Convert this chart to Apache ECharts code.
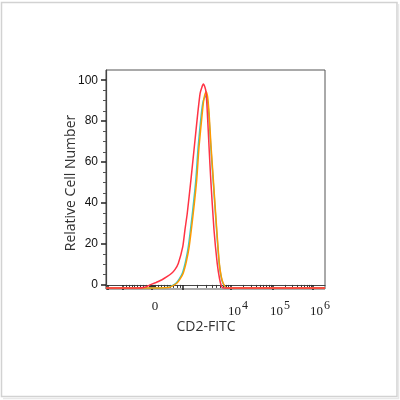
<!DOCTYPE html>
<html>
<head>
<meta charset="utf-8">
<style>html,body{margin:0;padding:0;background:#fff}#main{width:400px;height:400px}</style>
<script src="https://cdn.jsdelivr.net/npm/echarts@6/dist/echarts.min.js"></script>
</head>
<body>
<div id="main"></div>
<script>
// 显示通道 0–1024（双指数刻度）
const chMax = 1024;
// 主刻度位置：-10^4, -10^3, 0, 10^3, 10^4, 10^5, 10^6
const decadePos = [9, 80, 215, 360, 584, 781, 968];
// 刻度标签
const labelNames = ['0', '10^4', '10^5', '10^6'];
const labelPos = [215, 584, 781, 968];
// y 轴刻度
const yMajor = [0, 20, 40, 60, 80, 100];
const yMinor = [5, 10, 15, 25, 30, 35, 45, 50, 55, 65, 70, 75, 85, 90, 95];

// 曲线数据：通道 / 相对细胞数
const redX = [0, 145, 182, 206, 234, 260, 285, 307, 323, 338, 359, 369, 380, 397, 413, 429, 440, 448, 455, 463, 468, 474, 482, 490, 505, 520, 531, 541, 552, 1024];
const redY = [-1.5, -1.5, -1.1, 0, 1.2, 2.4, 4, 5.7, 7.6, 10.5, 18.7, 26.8, 35, 51.2, 67.5, 83.8, 93.6, 96.5, 98.1, 96.5, 94, 83.8, 67, 51.2, 26.8, 10.5, 3, -0.9, -1.5, -1.5];
const cyanX = [0, 248, 287, 305, 327, 342, 357, 372, 385, 404, 420, 431, 446, 455, 466, 474, 481, 490, 501, 517, 529, 538, 547, 563, 1024];
const cyanY = [-1.5, -1.5, -1.3, -0.6, 0.8, 2.8, 5.7, 11.5, 18.7, 35, 51.2, 67.5, 83.8, 90, 92.3, 90.5, 83, 67.5, 51, 26.8, 10.5, 4, 0.8, -1.5, -1.5];
const orangeX = [0, 252, 291, 309, 331, 346, 361, 376, 389, 408, 424, 435, 450, 458, 468, 475, 482, 491, 502, 518, 530, 539, 548, 564, 1024];
const orangeY = [-1.5, -1.5, -1.3, -0.6, 0.8, 2.8, 5.7, 11.5, 18.7, 35, 51.2, 67.5, 83.8, 91, 94.4, 92, 83.8, 68, 51.2, 26.8, 10.5, 4, 0.8, -1.5, -1.5];

// 次刻度：0 附近线性，10^3 以上对数
const minorPos = [];
for (let k = 1; k < 10; k++) {
  minorPos.push(decadePos[1] + (decadePos[2] - decadePos[1]) * k / 10);
  minorPos.push(decadePos[2] + (decadePos[3] - decadePos[2]) * k / 10);
}
for (let d = 3; d < 6; d++) {
  for (let k = 2; k < 10; k++) {
    minorPos.push(decadePos[d] + (decadePos[d + 1] - decadePos[d]) * Math.log10(k));
  }
}
[-9, -6, -3, 3, 6, 9].forEach(o => minorPos.push(decadePos[2] + o));

const pairs = (xs, ys) => xs.map((x, i) => [x, ys[i]]);

var myChart = echarts.init(document.getElementById('main'));
let o = {
  backgroundColor: '#fff',
  animation: false,
  grid: { left: 106, top: 70, right: 75, bottom: 111, show: true, borderColor: '#555', borderWidth: 1 },
  xAxis: [{
    type: 'value', min: 0, max: chMax, position: 'bottom',
    axisLine: { lineStyle: { color: '#444', width: 1.2 } },
    axisTick: { customValues: decadePos, length: 5, lineStyle: { color: '#222', width: 1.5 } },
    axisLabel: {
      customValues: labelPos,
      margin: 11,
      formatter: function (v) {
        let s = labelNames[labelPos.indexOf(v)];
        if (s === '0') return '{z|0}';
        return '{b|10}{s|' + s.split('^')[1] + '}';
      },
      rich: {
        z: { fontFamily: 'Liberation Serif', fontSize: 13, color: '#222', padding: [0, 0, 0, 6] },
        b: { fontFamily: 'Liberation Serif', fontSize: 13, color: '#222', padding: [0, 0, 0, 14] },
        s: { fontFamily: 'Liberation Serif', fontSize: 12, color: '#222', padding: [0, 0, 12, 1] }
      }
    },
    splitLine: { show: false },
    name: 'CD2-FITC', nameLocation: 'middle', nameGap: 31, nameMoveOverlap: false,
    nameTextStyle: { fontFamily: 'Open Sans', fontSize: 14, color: '#333', padding: [0, 19, 0, 0] }
  }, {
    type: 'value', min: 0, max: chMax, position: 'bottom',
    axisLine: { show: false },
    axisTick: { customValues: minorPos, length: 3, lineStyle: { color: '#333', width: 1 } },
    axisLabel: { show: false },
    splitLine: { show: false }
  }],
  yAxis: [{
    type: 'value', min: -2, max: 105, position: 'left',
    axisLine: { show: true, lineStyle: { color: '#444', width: 1.2 } },
    axisTick: { show: true, customValues: yMajor, length: 5, lineStyle: { color: '#222', width: 1.5 } },
    axisLabel: { customValues: yMajor, margin: 8, fontFamily: 'Liberation Sans', fontSize: 12, color: '#111' },
    splitLine: { show: false },
    name: 'Relative Cell Number', nameLocation: 'middle', nameGap: 28, nameMoveOverlap: false,
    nameTextStyle: { fontFamily: 'Open Sans', fontSize: 14, color: '#333', padding: [0, 7, 0, 0] }
  }, {
    type: 'value', min: -2, max: 105, position: 'left',
    axisLine: { show: false },
    axisTick: { show: true, customValues: yMinor, length: 3, lineStyle: { color: '#555', width: 1 } },
    axisLabel: { show: false },
    splitLine: { show: false }
  }],
  series: [
    { type: 'line', data: pairs(cyanX, cyanY), showSymbol: false, smooth: 0.2, lineStyle: { color: '#33cccc', width: 1.5 } },
    { type: 'line', data: pairs(orangeX, orangeY), showSymbol: false, smooth: 0.2, lineStyle: { color: '#ff9900', width: 1.5 } },
    { type: 'line', data: pairs(redX, redY), showSymbol: false, smooth: 0.2, lineStyle: { color: '#ff3344', width: 1.5 } }
  ],
  graphic: [
    { type: 'rect', shape: { x: 1.5, y: 2.5, width: 395.5, height: 394 }, style: { fill: 'none', stroke: '#d2d2d2', lineWidth: 1.5 } },
    { type: 'polyline', shape: { points: [[398.5, 4], [398.5, 398.5], [3, 398.5]] }, style: { fill: 'none', stroke: '#e8e8e8', lineWidth: 1.5 } }
  ]
};

myChart.setOption(o);
</script>
</body>
</html>
